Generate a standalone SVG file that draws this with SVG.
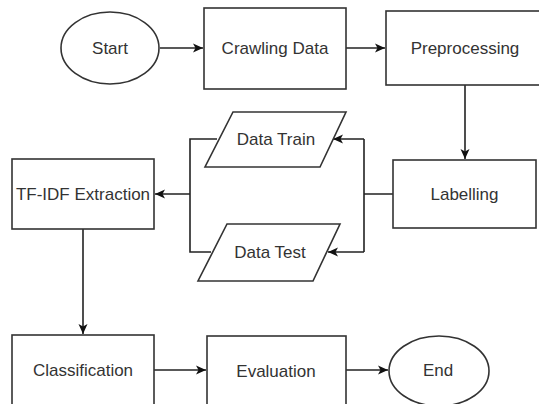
<svg xmlns="http://www.w3.org/2000/svg" width="539" height="404" viewBox="0 0 539 404">
<style>
.n{fill:#fff;stroke:#333;stroke-width:1.6}
.t{font-family:"Liberation Sans",Arial,sans-serif;font-size:17px;fill:#333;text-anchor:middle;dominant-baseline:central}
.c{fill:none;stroke:#222;stroke-width:1.6}
</style>
<defs>
<marker id="a" markerUnits="userSpaceOnUse" markerWidth="12" markerHeight="12" viewBox="0 0 12 12" refX="11" refY="6" orient="auto">
<path d="M1,1.5 L11,6 L1,10.5 L3.5,6 Z" fill="#111"/>
</marker>
</defs>
<rect width="539" height="404" fill="#fff"/>
<g id="connectors">
<path class="c" d="M160,48 H203" marker-end="url(#a)"/>
<path class="c" d="M346,48 H385" marker-end="url(#a)"/>
<path class="c" d="M465,85 V159" marker-end="url(#a)"/>
<path class="c" d="M393,194 H364 M364,139 V252 M364,139 H333" marker-end="url(#a)"/>
<path class="c" d="M364,252 H328" marker-end="url(#a)"/>
<path class="c" d="M217,139 H190 V252 H211 M190,194 H155" marker-end="url(#a)"/>
<path class="c" d="M83,229 V334" marker-end="url(#a)"/>
<path class="c" d="M154,370 H206" marker-end="url(#a)"/>
<path class="c" d="M346,370 H388" marker-end="url(#a)"/>
</g>
<g id="start"><ellipse class="n" cx="110" cy="48" rx="49" ry="36"/><text class="t" x="110" y="48">Start</text></g>
<g id="crawling"><rect class="n" x="204" y="8" width="142" height="81"/><text class="t" x="275" y="48">Crawling Data</text></g>
<g id="preprocessing"><rect class="n" x="386" y="11" width="158" height="74"/><text class="t" x="465" y="48">Preprocessing</text></g>
<g id="labelling"><rect class="n" x="393" y="160" width="143" height="68"/><text class="t" x="464.5" y="194">Labelling</text></g>
<g id="datatrain"><path class="n" d="M233,112 H346 L320,167 H205 Z"/><text class="t" x="276" y="139">Data Train</text></g>
<g id="datatest"><path class="n" d="M227,224 H340 L313,281 H198 Z"/><text class="t" x="270" y="252">Data Test</text></g>
<g id="tfidf"><rect class="n" x="12" y="159" width="142" height="70"/><text class="t" x="83" y="194">TF-IDF Extraction</text></g>
<g id="classification"><rect class="n" x="12" y="335" width="142" height="75"/><text class="t" x="83" y="370">Classification</text></g>
<g id="evaluation"><rect class="n" x="207" y="336" width="139" height="75"/><text class="t" x="276" y="371">Evaluation</text></g>
<g id="end"><ellipse class="n" cx="439" cy="371" rx="50" ry="35"/><text class="t" x="438" y="370">End</text></g>
</svg>
